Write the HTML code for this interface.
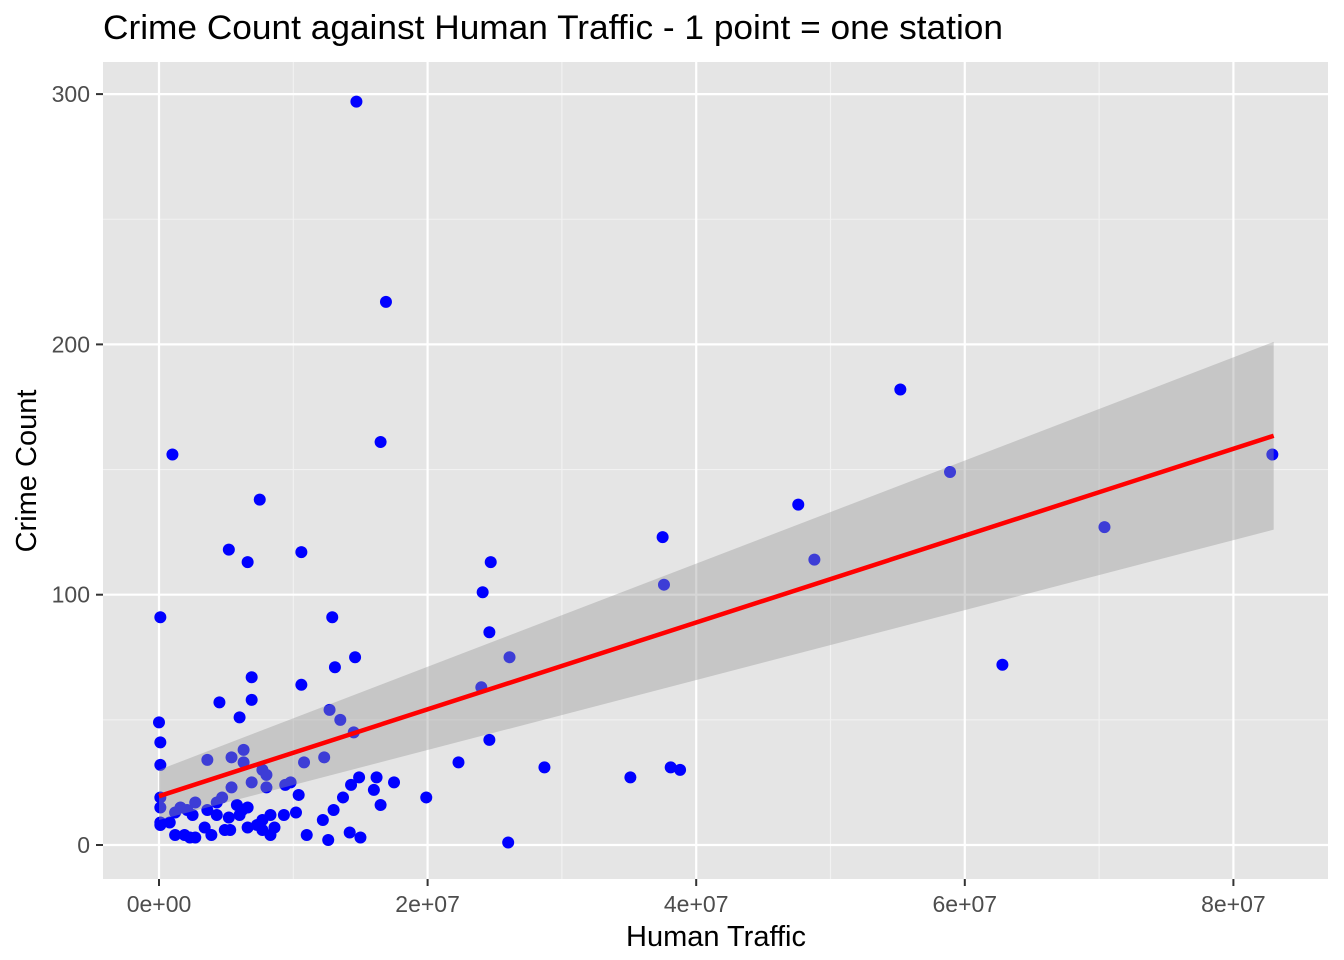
<!DOCTYPE html>
<html><head><meta charset="utf-8"><style>
body{margin:0;background:#fff;}
svg{display:block;font-family:"Liberation Sans",Arial,sans-serif;}
</style></head><body>
<svg id="chart" width="1344" height="960" viewBox="0 0 1344 960" xmlns="http://www.w3.org/2000/svg">
<text x="103" y="39" font-size="34" textLength="900" lengthAdjust="spacingAndGlyphs" fill="#000">Crime Count against Human Traffic - 1 point = one station</text>
<rect x="103" y="62" width="1225" height="817" fill="#e5e5e5"/>
<g id="grid"></g>
<g id="points"></g>
<g id="smooth"></g>
<g id="axes"></g>
<text x="716" y="946" font-size="29" text-anchor="middle" fill="#000">Human Traffic</text>
<text transform="translate(36,471) rotate(-90)" font-size="29" text-anchor="middle" fill="#000">Crime Count</text>
</svg>
<script>
const trafficM = [14.7,16.9,16.5,1.0,7.5,5.2,6.6,10.6,0.1,12.9,14.6,13.1,6.9,10.6,4.5,6.9,6.0,0,12.7,13.5,14.5,0.1,6.3,5.4,3.6,6.3,0.1,12.3,10.8,7.7,8.0,6.9,5.4,8.0,9.8,9.4,10.4,13.7,14.3,14.9,16.2,16.0,17.5,16.5,19.9,0.1,0.1,0.1,0.1,0.8,1.2,1.6,2.1,2.5,2.7,3.6,4.3,4.7,4.3,5.8,6.2,6.6,6.0,5.2,3.4,3.9,4.9,5.3,1.2,1.9,2.3,2.7,6.6,7.3,7.7,8.3,7.7,8.3,8.6,9.3,10.2,11.0,12.2,12.6,13.0,14.2,15.0,22.3,24.1,24.6,24.7,24.0,24.6,26.1,26.0,28.7,35.1,37.5,37.6,38.1,38.8,47.6,48.8,55.2,58.9,62.8,70.4,82.9];
const crimes = [297,217,161,156,138,118,113,117,91,91,75,71,67,64,57,58,51,49,54,50,45,41,38,35,34,33,32,35,33,30,28,25,23,23,25,24,20,19,24,27,27,22,25,16,19,19,15,9,8,9,13,15,14,12,17,14,17,19,12,16,14,15,12,11,7,4,6,6,4,4,3,3,7,8,10,12,6,4,7,12,13,4,10,2,14,5,3,33,101,85,113,63,42,75,1,31,27,123,104,31,30,136,114,182,149,72,127,156];
const fitX = [0, 83];
const fitY = [19.5, 163.5];
const bandLo = [10, 126];
const bandHi = [30, 201];
const xTicks = [0,20,40,60,80];
const xTickLabels = ["0e+00","2e+07","4e+07","6e+07","8e+07"];
const yTicks = [0,100,200,300];
const yTickLabels = ["0","100","200","300"];

const NS="http://www.w3.org/2000/svg";
const sx = v => 159 + v*13.43;
const sy = v => 845 - v*2.503;
function mk(tag, attrs, parent){const e=document.createElementNS(NS,tag);for(const k in attrs)e.setAttribute(k,attrs[k]);parent.appendChild(e);return e;}
const grid=document.getElementById('grid'), pts=document.getElementById('points'), sm=document.getElementById('smooth'), ax=document.getElementById('axes');
for(let v=-10;v<=90;v+=20){const x=sx(v);if(x<103||x>1328)continue;
 const l=mk('line',{x1:x,x2:x,y1:62,y2:879,stroke:'#f2f2f2','stroke-width':1.1},grid);
 
 }
for(let v=-50;v<=350;v+=100){const y=sy(v);if(y<62||y>879)continue;
 const l=mk('line',{x1:103,x2:1328,y1:y,y2:y,stroke:'#f2f2f2','stroke-width':1.1},grid);
 
 }
xTicks.forEach((v,i)=>{const x=sx(v);
 const l=mk('line',{x1:x,x2:x,y1:62,y2:879,stroke:'#fff','stroke-width':2.2},grid);
 
 
 const t=mk('line',{x1:x,x2:x,y1:879,y2:886,stroke:'#333','stroke-width':2},ax);
 
 
 const tx=mk('text',{x:x,y:912,'font-size':23,'text-anchor':'middle',fill:'#4d4d4d'},ax);
 tx.textContent=xTickLabels[i];
 
 });
yTicks.forEach((v,i)=>{const y=sy(v);
 const l=mk('line',{x1:103,x2:1328,y1:y,y2:y,stroke:'#fff','stroke-width':2.2},grid);
 
 
 const t=mk('line',{x1:96,x2:103,y1:y,y2:y,stroke:'#333','stroke-width':2},ax);
 
 
 const tx=mk('text',{x:90,y:y+8,'font-size':23,'text-anchor':'end',fill:'#4d4d4d'},ax);
 tx.textContent=yTickLabels[i];
 
 });
trafficM.forEach((v,i)=>{
 const c=mk('circle',{cx:sx(v),cy:sy(crimes[i]),r:6,fill:'#0000ff'},pts);
 
 });
const band=mk('polygon',{points:`${sx(fitX[0])},${sy(bandHi[0])} ${sx(fitX[1])},${sy(bandHi[1])} ${sx(fitX[1])},${sy(bandLo[1])} ${sx(fitX[0])},${sy(bandLo[0])}`,fill:'#999','fill-opacity':0.4},sm);


const fl=mk('line',{x1:sx(fitX[0]),y1:sy(fitY[0]),x2:sx(fitX[1]),y2:sy(fitY[1]),stroke:'#ff0000','stroke-width':4.5},sm);


</script>
</body></html>
